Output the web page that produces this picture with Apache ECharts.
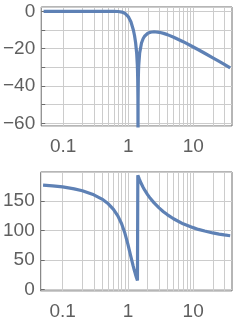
<!DOCTYPE html>
<html><head><meta charset="utf-8">
<script src="https://cdn.jsdelivr.net/npm/echarts@6/dist/echarts.min.js"></script>
<style>html,body{margin:0;padding:0;background:#fff}#c{width:242px;height:325px}</style>
</head><body><div id="c"></div>
<script>
// frequency samples (rad/s)
const freqs = [0.05,0.07,0.1,0.15,0.2,0.3,0.4,0.5,0.6,0.7,0.8,0.9,1.0,1.1,1.2,1.25,1.3,1.35,1.38,1.39,1.40,1.41,1.414,1.418,1.43,1.44,1.45,1.5,1.6,1.7,1.8,2.0,2.2,2.5,3,3.5,4,5,7,10,12,15,20,25,30,37];
// magnitude (dB)
const magDb = [0,0,0,0.01,0.02,0.04,0.07,0.09,0.08,-0.02,-0.33,-1.11,-2.73,-5.56,-9.94,-12.91,-16.79,-22.54,-28.46,-31.61,-36.39,-47.1,-73,-48.15,-35.92,-31.81,-29.11,-22.25,-16.94,-14.51,-13.13,-11.72,-11.13,-10.88,-11.17,-11.75,-12.43,-13.8,-16.22,-19.05,-20.55,-22.42,-24.87,-26.79,-28.36,-30.3];
// phase (degrees)
const phaseDeg = [176.8,175.6,173.7,170.5,167.2,160.4,153.2,145.1,135.8,124.8,111.4,95.2,76.5,57.5,40.4,33.0,26.4,20.5,17.3,16.3,15.3,14.3,13.9,193.5,192.4,191.5,190.6,186.5,179.4,173.6,168.6,160.7,154.4,147.1,138.2,131.8,126.9,119.8,111.3,104.8,101.8,99.0,95.8,93.8,92.4,91.0];
// grid line positions on the frequency axis
const gridFreqs = [0.1,0.2,0.3,0.4,0.5,0.6,0.7,0.8,0.9,1,2,3,4,5,6,7,8,9,10,20,30];
// tick labels
const xTickLabels = [0.1,1,10];
const magTickLabels = [0,-20,-40,-60];
const phaseTickLabels = [0,50,100,150];

const chart = echarts.init(document.getElementById('c'), null, {renderer:'canvas'});
const FONT = '"Liberation Sans", Arial, sans-serif';
const LABEL = '#5f5f5f';
const FRAME = '#6d6d6d';
const GRIDC = '#cccccc';
const BLUE = '#5E81B5';

function inList(v, list){ return list.some(t => Math.abs(t - v) < 1e-6 * Math.max(1, Math.abs(t))); }
function fmt(v){ const r = Math.round(v*1000)/1000; return r < 0 ? '\u2212' + Math.abs(r) : String(r); }

function xAxis(idx){
  return {
    type:'log', logBase:10, gridIndex:idx, min:0.046, max:39.4,
    axisLine:{show:false}, splitLine:{show:false}, axisTick:{show:false},
    axisLabel:{show:true, showMinLabel:false, showMaxLabel:false, margin:11,
      fontFamily:FONT, fontSize:19, color:LABEL,
      formatter: v => inList(v, xTickLabels) ? fmt(v) : ''}
  };
}
function yAxis(idx, min, max, split, labels){
  return {
    type:'value', gridIndex:idx, min:min, max:max, splitNumber:split,
    axisLine:{show:false},
    axisTick:{show:true, inside:true, length:4, lineStyle:{color:FRAME}},
    splitLine:{show:true, lineStyle:{color:GRIDC, width:1}},
    axisLabel:{show:true, showMinLabel:false, showMaxLabel:false, margin:6,
      fontFamily:FONT, fontSize:19, color:LABEL,
      formatter: v => inList(v, labels) ? fmt(v) : ''}
  };
}
function gridSeries(idx){
  return {
    type:'line', xAxisIndex:idx, yAxisIndex:idx, data:[], z:1, silent:true,
    markLine:{silent:true, symbol:['none','none'], z:1, animation:false,
      label:{show:false}, lineStyle:{color:GRIDC, width:1, type:'solid'},
      emphasis:{disabled:true},
      data: gridFreqs.map(v => ({xAxis:v}))}
  };
}

chart.setOption({
  animation:false,
  grid:[
    {left:40, right:10, top:7, height:119, show:true, borderColor:FRAME, borderWidth:1, containLabel:false},
    {left:40, right:10, top:172, height:119, show:true, borderColor:FRAME, borderWidth:1, containLabel:false}
  ],
  xAxis:[xAxis(0), xAxis(1)],
  yAxis:[yAxis(0, -61.45, 2.4, 6, magTickLabels), yAxis(1, -2.5, 199, 5, phaseTickLabels)],
  series:[
    gridSeries(0), gridSeries(1),
    {type:'line', xAxisIndex:0, yAxisIndex:0, z:3, showSymbol:false, clip:true,
      lineStyle:{color:BLUE, width:3.2}, data: freqs.map((f,i)=>[f, magDb[i]])},
    {type:'line', xAxisIndex:1, yAxisIndex:1, z:3, showSymbol:false, clip:true,
      lineStyle:{color:BLUE, width:3.2}, data: freqs.map((f,i)=>[f, phaseDeg[i]])}
  ]
});
</script></body></html>
